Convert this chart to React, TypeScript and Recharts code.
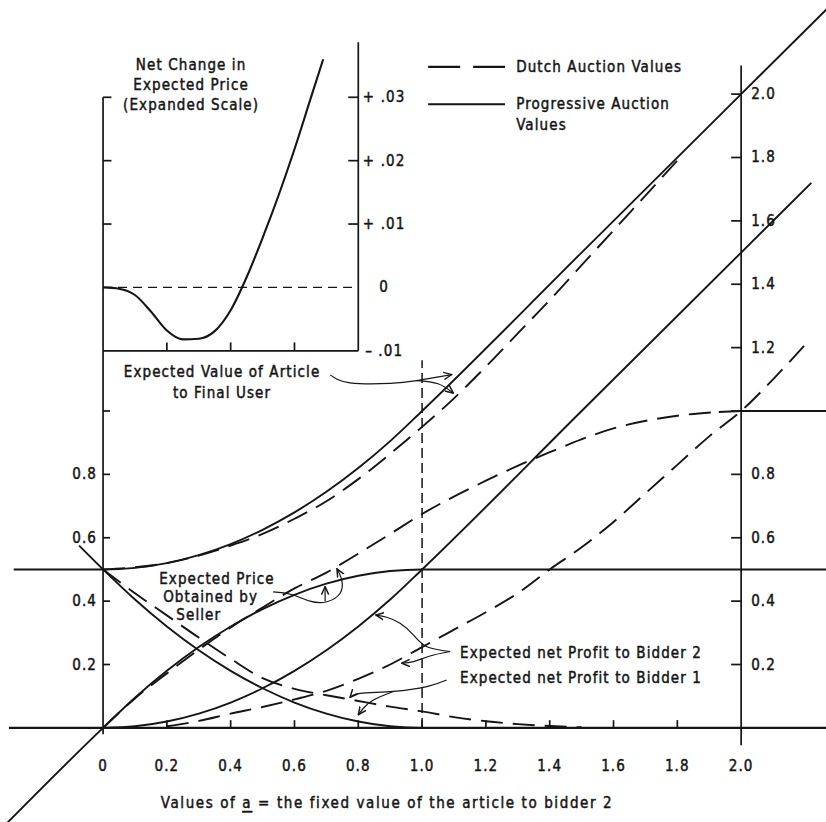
import React from "react";
import { LineChart, Line, XAxis, YAxis, ReferenceLine, ReferenceDot } from "recharts";

const W = 826;
const H = 822;
const INK = "#151515";
const FONT = "'Liberation Sans Narrow', 'DejaVu Sans Condensed', 'Arial Narrow', sans-serif";

const X_DOMAIN: [number, number] = [-0.323, 2.266];
const Y_DOMAIN: [number, number] = [-0.297, 2.297];
// inset (expanded scale): .01 there takes the height of 0.2 on the main scale, its 0 sits at 1.39
const INSET_ZERO = 1.39;
const INSET_FACTOR = 20;
const INSET_DOMAIN: [number, number] = [
  (Y_DOMAIN[0] - INSET_ZERO) / INSET_FACTOR,
  (Y_DOMAIN[1] - INSET_ZERO) / INSET_FACTOR,
];

// Progressive auction values (solid)
const progValueToUser = [[-0.28, 0.5], [0, 0.5], [0.1, 0.505], [0.2, 0.52], [0.3, 0.545], [0.4, 0.58], [0.5, 0.625], [0.6, 0.68], [0.7, 0.745], [0.8, 0.82], [0.9, 0.905], [1.0, 1.0], [1.5, 1.5], [2.0, 2.0], [2.35, 2.35]];
const progPrice = [[-0.33, -0.33], [0, 0], [0.1, 0.095], [0.2, 0.18], [0.3, 0.255], [0.4, 0.32], [0.5, 0.375], [0.6, 0.42], [0.7, 0.455], [0.8, 0.48], [0.9, 0.495], [1.0, 0.5], [1.5, 0.5], [2.27, 0.5]];
const progProfit1 = [[-0.075, 0.575], [0, 0.5], [0.1, 0.405], [0.2, 0.32], [0.3, 0.245], [0.4, 0.18], [0.5, 0.125], [0.6, 0.08], [0.7, 0.045], [0.8, 0.02], [0.9, 0.005], [1.0, 0], [1.3, 0]];
const progProfit2 = [[0, 0], [0.1, 0.005], [0.2, 0.02], [0.3, 0.045], [0.4, 0.08], [0.5, 0.125], [0.6, 0.18], [0.7, 0.245], [0.8, 0.32], [0.9, 0.405], [1.0, 0.5], [1.5, 1.0], [2.0, 1.5], [2.22, 1.72]];

// Dutch auction values (dashed)
const dutchValueToUser = [[0, 0.5], [0.2, 0.52], [0.4, 0.575], [0.5, 0.612], [0.6, 0.66], [0.7, 0.715], [0.8, 0.785], [0.9, 0.865], [1.0, 0.95], [1.1, 1.04], [1.2, 1.14], [1.3, 1.245], [1.4, 1.35], [1.5, 1.46], [1.6, 1.57], [1.7, 1.68], [1.8, 1.79]];
const dutchPrice = [[0, 0], [0.1, 0.093], [0.2, 0.172], [0.3, 0.247], [0.4, 0.317], [0.5, 0.38], [0.6, 0.44], [0.7, 0.49], [0.8, 0.55], [0.9, 0.612], [1.0, 0.675], [1.2, 0.78], [1.4, 0.87], [1.6, 0.945], [1.8, 0.985], [1.93, 0.997]];
const dutchPriceTail = [[1.93, 0.997], [2.0, 1.0], [2.27, 1.0]];
const dutchProfit1 = [[0, 0.5], [0.1, 0.425], [0.2, 0.355], [0.3, 0.285], [0.4, 0.218], [0.5, 0.157], [0.6, 0.123], [0.7, 0.103], [0.8, 0.085], [0.9, 0.067], [1.0, 0.052], [1.1, 0.034], [1.2, 0.021], [1.3, 0.012], [1.4, 0.006], [1.5, 0.002]];
const dutchProfit2 = [[0.2, 0.005], [0.3, 0.022], [0.4, 0.045], [0.5, 0.066], [0.6, 0.09], [0.7, 0.117], [0.8, 0.155], [0.9, 0.2], [1.0, 0.255], [1.1, 0.31], [1.2, 0.365], [1.3, 0.425], [1.4, 0.5], [1.5, 0.57], [1.6, 0.65], [1.7, 0.74], [1.8, 0.83], [1.9, 0.92], [2.0, 1.0], [2.1, 1.1], [2.21, 1.22]];

// Inset: net change in expected price (Dutch minus progressive)
const netChange = [[0, 0], [0.05, -0.0002], [0.1, -0.0012], [0.15, -0.0038], [0.2, -0.0068], [0.25, -0.0082], [0.3, -0.0081], [0.35, -0.0069], [0.4, -0.0036], [0.45, 0.0016], [0.5, 0.0078], [0.55, 0.0145], [0.6, 0.0218], [0.65, 0.0297], [0.69, 0.036]];

// annotation arrows
const arrowValueSolid = [[0.712, 1.114], [0.774, 1.089], [0.9, 1.087], [0.983, 1.096], [1.093, 1.115]];
const arrowValueDashed = [[0.983, 1.096], [1.05, 1.086], [1.098, 1.056]];
const arrowPriceDashed = [[0.533, 0.429], [0.59, 0.421], [0.649, 0.4], [0.701, 0.398], [0.743, 0.425], [0.748, 0.467], [0.733, 0.502]];
const arrowPriceSolid = [[0.696, 0.4], [0.696, 0.446]];
const arrowProfit2Solid = [[1.088, 0.241], [1.015, 0.256], [0.973, 0.293], [0.931, 0.33], [0.889, 0.349], [0.855, 0.356]];
const arrowProfit2Dashed = [[1.088, 0.241], [1.025, 0.227], [0.973, 0.209], [0.936, 0.204]];
const arrowProfit1Dashed = [[1.077, 0.151], [1.015, 0.13], [0.91, 0.115], [0.806, 0.109], [0.774, 0.096]];
const arrowProfit1Solid = [[0.91, 0.115], [0.847, 0.088], [0.816, 0.062], [0.8, 0.041]];

// axes
const xTicks = [0, 0.2, 0.4, 0.6, 0.8, 1.0, 1.2, 1.4, 1.6, 1.8, 2.0];
const xTickLabels = ["0", "0.2", "0.4", "0.6", "0.8", "1.0", "1.2", "1.4", "1.6", "1.8", "2.0"];
const leftTicks = [0.2, 0.4, 0.6, 0.8, 1.0];
const leftTickLabels = ["0.2", "0.4", "0.6", "0.8", ""];
const rightTicks = [0.2, 0.4, 0.6, 0.8, 1.0, 1.2, 1.4, 1.6, 1.8, 2.0];
const rightTickLabels = ["0.2", "0.4", "0.6", "0.8", "", "1.2", "1.4", "1.6", "1.8", "2.0"];
const insetTicks = [-0.01, 0, 0.01, 0.02, 0.03];
const insetTickLabels = ["\u2013 .01", "0", "+ .01", "+ .02", "+ .03"];
const insetXTicks = [0.2, 0.4, 0.6];

const toXY = (pts: number[][]) => pts.map(([x, y]) => ({ x, y }));
const ux = (px: number) => (px * (X_DOMAIN[1] - X_DOMAIN[0])) / W;
const uy = (px: number) => (px * (Y_DOMAIN[1] - Y_DOMAIN[0])) / H;

const DASH = "22 10";

function curve(key: string, pts: number[][], opts: any = {}) {
  return (
    <Line
      key={key}
      data={toXY(pts)}
      dataKey="y"
      type="monotone"
      stroke={INK}
      strokeWidth={1.9}
      dot={false}
      activeDot={false}
      isAnimationActive={false}
      {...opts}
    />
  );
}

function arrow(key: string, pts: number[][]) {
  return curve(key, pts, { type: "natural", strokeWidth: 1.2, markerEnd: "url(#arrowHead)" });
}

function seg(key: string, x1: number, y1: number, x2: number, y2: number, opts: any = {}) {
  return (
    <ReferenceLine
      key={key}
      segment={[{ x: x1, y: y1 }, { x: x2, y: y2 }]}
      stroke={INK}
      strokeWidth={1.7}
      ifOverflow="visible"
      {...opts}
    />
  );
}

function note(key: string, x: number, y: number, content: React.ReactNode, anchor = "middle", opts: any = {}) {
  const { yAxisId, ...style } = opts;
  const extra = yAxisId !== undefined ? { yAxisId } : {};
  return (
    <ReferenceDot
      key={key}
      x={x}
      y={y}
      r={0}
      fill="none"
      stroke="none"
      ifOverflow="visible"
      {...extra}
      label={(p: any) => {
        const vb = p.viewBox ?? p;
        return (
          <text
            x={vb.x}
            y={vb.y}
            textAnchor={anchor}
            dominantBaseline="central"
            fontFamily={FONT}
            fontSize={15}
            letterSpacing={1.1}
            fill={INK}
            stroke={INK}
            strokeWidth={0.45}
            {...style}
          >
            {content}
          </text>
        );
      }}
    />
  );
}

export default function App() {
  const tickX = ux(7);
  const tickY = uy(7);
  return (
    <div style={{ position: "absolute", left: 0, top: 0, width: W, height: H, background: "#fff" }}>
      <svg width={0} height={0} style={{ position: "absolute" }}>
        <defs>
          <marker id="arrowHead" viewBox="0 0 10 10" refX="9" refY="5" markerWidth="9" markerHeight="9" markerUnits="userSpaceOnUse" orient="auto">
            <path d="M0,1 L9,5 L0,9" fill="none" stroke={INK} strokeWidth={1.6} />
          </marker>
        </defs>
      </svg>
      <LineChart width={W} height={H} margin={{ top: 0, right: 0, bottom: 0, left: 0 }}>
        <XAxis type="number" dataKey="x" domain={X_DOMAIN} allowDataOverflow hide />
        <YAxis type="number" domain={Y_DOMAIN} allowDataOverflow hide />
        <YAxis yAxisId="inset" type="number" domain={INSET_DOMAIN} allowDataOverflow hide />

        {/* main axes */}
        {seg("xaxis", -0.295, 0, 2.27, 0, { strokeWidth: 2.2 })}
        {seg("yaxisL", 0, -0.02, 0, 1.99)}
        {seg("yaxisR", 2.0, -0.055, 2.0, 2.09)}
        {xTicks.slice(1, -1).map((t) => seg(`xt${t}`, t, 0, t, tickY * 1.1))}
        {leftTicks.map((t) => seg(`lt${t}`, 0, t, tickX, t))}
        {rightTicks.map((t) => seg(`rt${t}`, 2.0 - ux(10), t, 2.0, t))}
        {seg("vdash", 1.0, 0, 1.0, 1.16, { strokeDasharray: "10 5", strokeWidth: 1.5 })}

        {/* progressive auction */}
        {curve("pv", progValueToUser)}
        {curve("pp", progPrice)}
        {curve("pb1", progProfit1)}
        {curve("pb2", progProfit2)}

        {/* dutch auction */}
        {curve("dv", dutchValueToUser, { strokeDasharray: DASH })}
        {curve("dp", dutchPrice, { strokeDasharray: DASH })}
        {curve("dpt", dutchPriceTail, { type: "linear" })}
        {curve("db1", dutchProfit1, { strokeDasharray: DASH })}
        {curve("db2", dutchProfit2, { strokeDasharray: DASH })}

        {/* inset */}
        {seg("ib", 0, -0.01, 0.8, -0.01, { yAxisId: "inset" })}
        {seg("ir", 0.8, -0.01, 0.8, 0.0387, { yAxisId: "inset" })}
        {seg("iz", 0, 0, 0.8, 0, { yAxisId: "inset", strokeDasharray: "9 6", strokeWidth: 1.4 })}
        {insetTicks.slice(2).map((t) => seg(`irt${t}`, 0.8 - ux(10), t, 0.8, t, { yAxisId: "inset" }))}
        {insetTicks.slice(2).map((t) => seg(`ilt${t}`, 0, t, tickX * 1.2, t, { yAxisId: "inset" }))}
        {insetXTicks.map((t) => seg(`ixt${t}`, t, -0.01, t, -0.01 + (tickY * 1.2) / INSET_FACTOR, { yAxisId: "inset" }))}
        {curve("inet", netChange, { yAxisId: "inset", strokeWidth: 2.1 })}
        {insetTicks.map((t, i) => note(`il${t}`, 0.881, t, insetTickLabels[i], "middle", { yAxisId: "inset" }))}

        {/* annotation arrows */}
        {arrow("a1", arrowValueSolid)}
        {arrow("a2", arrowValueDashed)}
        {arrow("a3", arrowPriceDashed)}
        {arrow("a4", arrowPriceSolid)}
        {arrow("a5", arrowProfit2Solid)}
        {arrow("a6", arrowProfit2Dashed)}
        {arrow("a7", arrowProfit1Dashed)}
        {arrow("a8", arrowProfit1Solid)}

        {/* legend */}
        {seg("lg1", 1.019, 2.086, 1.26, 2.086, { strokeDasharray: "32 13", strokeWidth: 2.2 })}
        {seg("lg2", 1.019, 1.968, 1.26, 1.968, { strokeWidth: 2.2 })}
        {note("lt1", 1.295, 2.086, "Dutch Auction Values", "start")}
        {note("lt2", 1.295, 1.968, "Progressive Auction", "start")}
        {note("lt3", 1.295, 1.902, "Values", "start")}

        {/* tick labels */}
        {xTicks.map((t, i) => note(`xl${t}`, t, -0.12, xTickLabels[i]))}
        {leftTicks.map((t, i) => note(`ll${t}`, -ux(6), t, leftTickLabels[i], "end"))}
        {rightTicks.map((t, i) => note(`rl${t}`, 2.0 + ux(10), t, rightTickLabels[i], "start"))}

        {/* texts */}
        {note("ttl1", 0.276, 2.091, "Net Change in")}
        {note("ttl2", 0.276, 2.028, "Expected Price")}
        {note("ttl3", 0.276, 1.965, "(Expanded Scale)")}
        {note("n1", 0.373, 1.123, "Expected Value of Article")}
        {note("n2", 0.373, 1.057, "to Final User")}
        {note("n3", 0.357, 0.47, "Expected Price")}
        {note("n4", 0.337, 0.413, "Obtained by")}
        {note("n5", 0.3, 0.356, "Seller")}
        {note("n6", 1.119, 0.237, "Expected net Profit to Bidder 2", "start")}
        {note("n7", 1.119, 0.158, "Expected net Profit to Bidder 1", "start")}
        {note(
          "xtitle",
          0.89,
          -0.237,
          <>
            Values of <tspan textDecoration="underline" style={{ textDecoration: "underline" }}>a</tspan> = the fixed value of the article to bidder 2
          </>,
          "middle",
          { letterSpacing: 1.6 }
        )}
      </LineChart>
    </div>
  );
}
